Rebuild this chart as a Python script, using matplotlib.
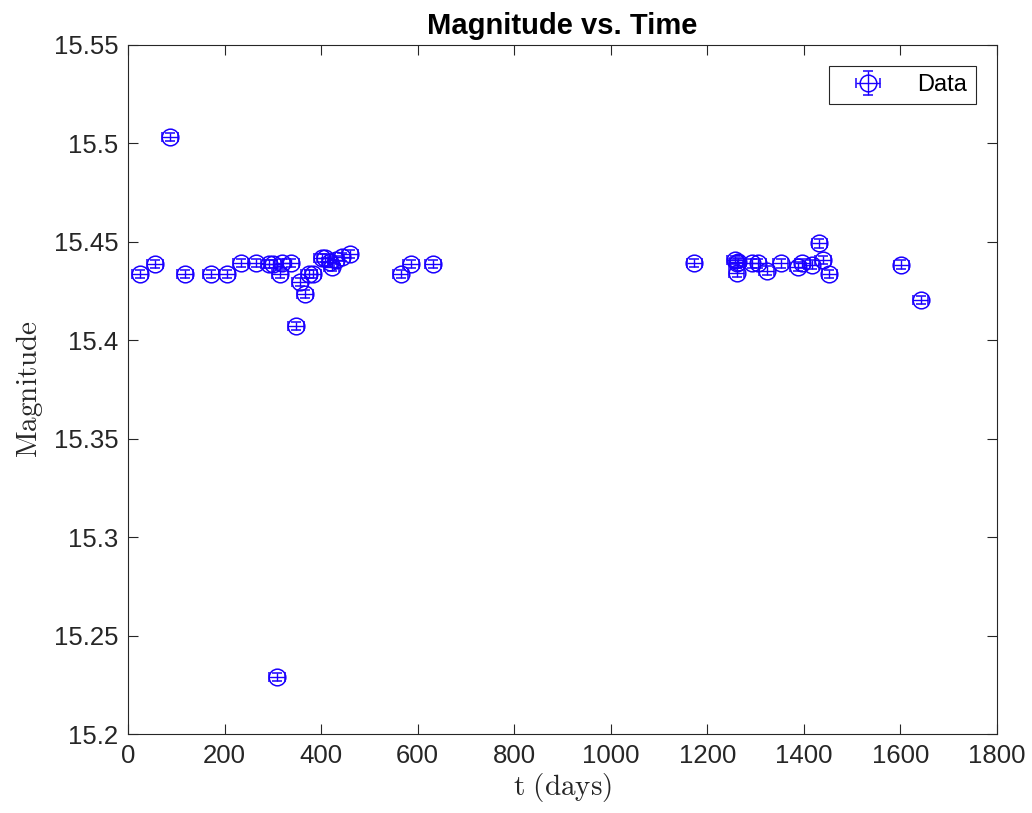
import matplotlib
matplotlib.use('Agg')
import matplotlib.pyplot as plt
import numpy as np

# 数据
t_days = [25, 56, 87, 118, 172, 205, 234, 265, 292, 300, 315, 320, 338, 348,
          356, 367, 375, 383, 402, 408, 418, 422, 431, 443, 460,
          565, 586, 632, 309,
          1173, 1257, 1261, 1264, 1261, 1292, 1306, 1323, 1352, 1388, 1397,
          1416, 1432, 1440, 1453, 1602, 1642]
magnitude = [15.4336, 15.4387, 15.5032, 15.4336, 15.4336, 15.4336, 15.4392, 15.4392,
             15.4387, 15.4387, 15.4336, 15.4390, 15.4392, 15.4072,
             15.4295, 15.4234, 15.4336, 15.4336, 15.4417, 15.4417, 15.4397, 15.4371,
             15.4407, 15.4422, 15.4437,
             15.4336, 15.4387, 15.4387, 15.2290,
             15.4392, 15.4407, 15.4390, 15.4395, 15.4343, 15.4390, 15.4390, 15.4353,
             15.4390, 15.4373, 15.4390, 15.4383, 15.4492, 15.4407, 15.4336, 15.4383,
             15.4204]
mag_err = 0.0022
t_err = 16

x_ticks = list(range(0, 1801, 200))
y_ticks = [15.2, 15.25, 15.3, 15.35, 15.4, 15.45, 15.5, 15.55]

plt.rcParams['font.family'] = ['Liberation Sans', 'DejaVu Sans']
plt.rcParams['mathtext.fontset'] = 'cm'

fig = plt.figure(figsize=(10.32, 8.13), dpi=100)
ax = fig.add_axes([0.124, 0.097, 0.842, 0.848])

ax.errorbar(t_days, magnitude, yerr=mag_err, xerr=t_err, fmt='o', color='#1a00ff',
            mfc='none', mec='#1a00ff', markersize=12, elinewidth=1, capsize=3.5,
            markeredgewidth=1.1, label='Data')

ax.set_xlim(0, 1800)
ax.set_ylim(15.2, 15.55)
ax.set_xticks(x_ticks)
ax.set_yticks(y_ticks)
ax.set_yticklabels([f'{v:g}' for v in y_ticks])
ax.tick_params(direction='in', top=True, right=True, labelsize=18.5, length=7,
               width=0.8, colors='#262626', labelcolor='#262626', pad=7)
for s in ax.spines.values():
    s.set_linewidth(0.8)
    s.set_color('#262626')

ax.set_title('Magnitude vs. Time', fontsize=21, fontweight='bold', pad=8)
ax.set_xlabel(r'$\mathrm{t\ (days)}$', fontsize=21, color='#262626', labelpad=2)
ax.set_ylabel(r'$\mathrm{Magnitude}$', fontsize=21, color='#262626', labelpad=6)

leg = ax.legend(loc='upper right', fontsize=17, fancybox=False, framealpha=1,
                edgecolor='#262626', borderpad=0.35, handlelength=2.6,
                borderaxespad=0.9)
leg.get_frame().set_linewidth(0.8)

plt.savefig('out.png', dpi=100)
